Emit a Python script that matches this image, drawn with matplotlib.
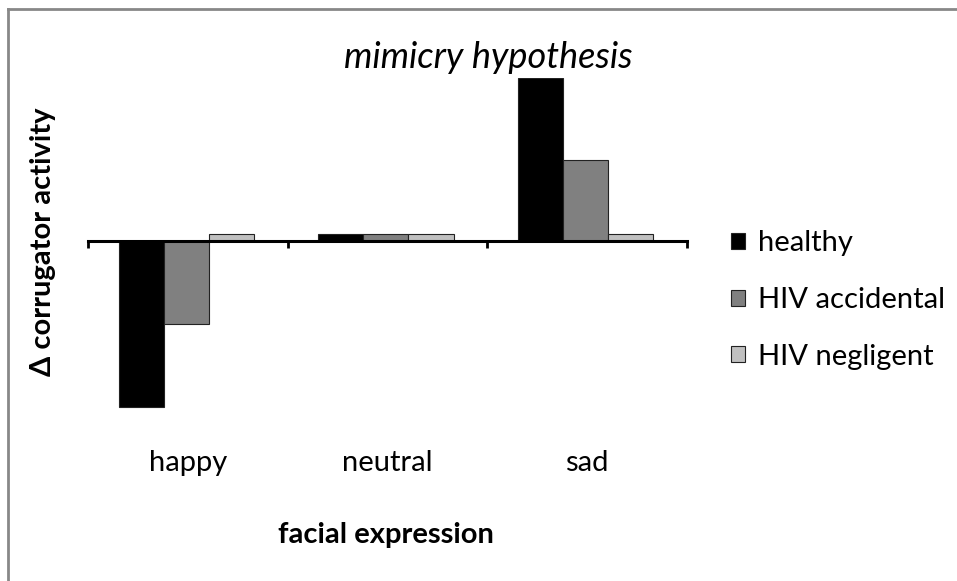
import numpy as np
import matplotlib
matplotlib.use("Agg")
import matplotlib.pyplot as plt
from matplotlib.lines import Line2D
from matplotlib.patches import Patch

plt.rcParams["font.family"] = ["Lato", "DejaVu Sans"]

categories = ["happy", "neutral", "sad"]
series = ["healthy", "HIV accidental", "HIV negligent"]
healthy = [-2.0, 0.08, 1.96]
hiv_accidental = [-1.0, 0.08, 0.98]
hiv_negligent = [0.08, 0.08, 0.08]
colors = ["#000000", "#808080", "#c0c0c0"]

W, H = 957, 581
fig = plt.figure(figsize=(W / 100, H / 100), dpi=100)

# plot area in pixels (left, top, right, bottom)
L, T, R, B = 88, 78, 687, 440
ax = fig.add_axes([L / W, 1 - B / H, (R - L) / W, (B - T) / H])

x = np.arange(len(categories))
bw = 0.226
for i, (vals, name) in enumerate(zip([healthy, hiv_accidental, hiv_negligent], series)):
    ax.bar(x + (i - 1) * bw - 0.008, vals, bw, color=colors[i], edgecolor="#222222",
           linewidth=0.8, label=name, zorder=2)

ax.set_xlim(-0.5, 2.5)
ax.set_ylim(-2.4, 1.964)
ax.set_yticks([])
for s in ["left", "right", "top"]:
    ax.spines[s].set_visible(False)
ax.spines["bottom"].set_position(("data", 0))
ax.spines["bottom"].set_linewidth(2.2)
ax.spines["bottom"].set_zorder(3)
ax.set_xticks([-0.5, 0.5, 1.5, 2.5])
ax.set_xticklabels([])
ax.tick_params(axis="x", direction="out", length=5, width=2)

trans = ax.get_xaxis_transform()
for xi, cat in zip(x, categories):
    ax.text(xi, 1 - (463 - T) / (B - T), cat, transform=trans, ha="center",
            va="center", fontsize=21)

fig.text(386 / W, 1 - 535 / H, "facial expression", ha="center", va="center",
         fontsize=21, fontweight="bold")
fig.text(43 / W, 1 - 242 / H, "Δ corrugator activity", ha="center", va="center",
         rotation=90, fontsize=21, fontweight="bold")
fig.text(488 / W, 1 - 57 / H, "mimicry hypothesis", ha="center", va="center",
         fontsize=26, fontstyle="italic")

handles = [Patch(facecolor=c, edgecolor="#222222", linewidth=0.8) for c in colors]
fig.legend(handles, series, loc="center left", bbox_to_anchor=(731 / W, 1 - 300 / H),
           frameon=False, fontsize=21, handlelength=0.48, handleheight=0.48,
           handletextpad=0.45, labelspacing=1.05, borderpad=0, borderaxespad=0)

# outer chart border (only top and left visible in the crop)
fig.add_artist(Line2D([8 / W, 8 / W], [1 - 9 / H, 0], color="#888888", lw=2))
fig.add_artist(Line2D([8 / W, 1], [1 - 9 / H, 1 - 9 / H], color="#888888", lw=2))

fig.savefig("out.png", dpi=100)
